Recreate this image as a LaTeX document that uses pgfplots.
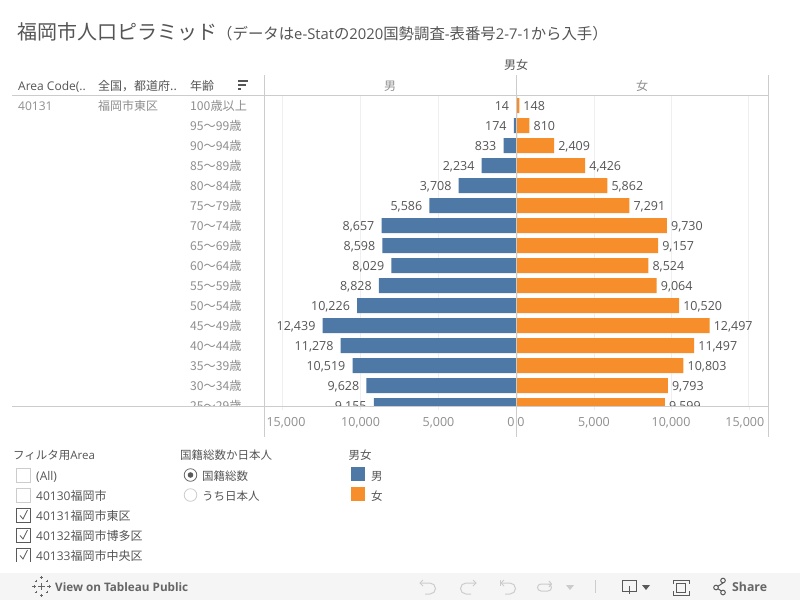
\documentclass[border=0pt]{standalone}
\usepackage{fontspec}
\usepackage{pgfplots}
\usepackage{pgfplotstable}
\pgfplotsset{compat=1.18}
\setmainfont{Open Sans}
\newfontfamily\cjk{Noto Sans CJK JP}
\newcommand\J[1]{{\cjk #1}}
\definecolor{mblue}{HTML}{4E79A7}
\definecolor{forange}{HTML}{F58E2B}
\definecolor{rulec}{HTML}{CCCCCC}
\definecolor{gridc}{HTML}{EFEFEF}
\definecolor{lab}{HTML}{555555}
\definecolor{lab2}{HTML}{8F8F8F}
\definecolor{band}{HTML}{F5F5F5}
\newcommand\fs[1]{\fontsize{#1}{#1}\selectfont}
\pgfplotstableread{
y male female
0 14 148
1 174 810
2 833 2409
3 2234 4426
4 3708 5862
5 5586 7291
6 8657 9730
7 8598 9157
8 8029 8524
9 8828 9064
10 10226 10520
11 12439 12497
12 11278 11497
13 10519 10803
14 9628 9793
15 9155 9599
}\pop
\pgfplotsset{pyr/.style={
  scale only axis, height=310.5pt,
  anchor=south west,
  xbar, bar width=15pt, bar shift=0pt,
  y dir=reverse, ymin=-0.5, ymax=15.025,
  axis line style={draw=none},
  xmajorgrids, grid style={gridc,line width=0.8pt},
  xtick pos=bottom, xticklabel pos=bottom,
  scaled x ticks=false,
  tick align=outside,
  major tick length=4pt,
  xtick style={gridc,line width=0.8pt},
  ytick style={draw=none},
  /pgf/number format/assume math mode=true,
  /pgf/number format/1000 sep={,},
  ticklabel style={font=\fs{12.5},text=lab2},
  xticklabel style={yshift=-4pt},
  nodes near coords,
  nodes near coords style={font=\fs{12.5},text=lab,inner sep=0pt},
}}
\begin{document}
\begin{tikzpicture}[x=1pt,y=-1pt]
\useasboundingbox (0,0) rectangle (800,600);
\fill[white] (0,0) rectangle (800,600);
% left half
\begin{axis}[pyr,
  at={(264.5pt,-406pt)}, width=252pt,
  x dir=reverse, xmin=0, xmax=16167,
  xtick={15000,10000,5000,0},
  xticklabels={\hspace{6.6pt}15{,}000,10{,}000,5{,}000,0\kern 11pt},
  ytick={0,...,15},
  yticklabels={\J{100歳以上},\J{95〜99歳},\J{90〜94歳},\J{85〜89歳},\J{80〜84歳},\J{75〜79歳},\J{70〜74歳},\J{65〜69歳},\J{60〜64歳},\J{55〜59歳},\J{50〜54歳},\J{45〜49歳},\J{40〜44歳},\J{35〜39歳},\J{30〜34歳},\J{25〜29歳}},
  yticklabel style={anchor=west,xshift=-70.5pt,inner sep=0pt,font=\fs{12.2},text=lab2},
  every node near coord/.append style={anchor=east,xshift=-7pt,yshift=-1pt},
]
\addplot[fill=mblue,draw=none] table[x=male,y=y] {\pop};
\end{axis}
% right half
\begin{axis}[pyr,
  at={(517pt,-406pt)}, width=251.3pt,
  xmin=0, xmax=16310,
  xtick={0,5000,10000,15000},
  xticklabels={\hspace{8pt}0,5{,}000,10{,}000,15{,}000\kern 6.6pt},
  ytick=\empty,
  every node near coord/.append style={anchor=west,xshift=4pt,yshift=-1pt},
]
\addplot[fill=forange,draw=none] table[x=female,y=y] {\pop};
\end{axis}
% cover below the clipped last row
\fill[white] (0,406.5) rectangle (800,414);
\foreach \x in {282.7,360.4,438.3,594.7,671.5,749.3}{\draw[gridc,line width=0.8pt] (\x,406)--(\x,410);}
% rules
\draw[rulec,line width=0.8pt] (12,95.5)--(768.5,95.5);
\draw[rulec,line width=0.8pt] (12,406.3)--(768.5,406.3);
\draw[rulec,line width=0.8pt] (264.5,75)--(264.5,436.5);
\draw[rulec,line width=0.8pt] (516.5,75)--(516.5,436.5);
\draw[rulec,line width=0.8pt] (768.5,75)--(768.5,436.5);
% title
\node[anchor=base west,inner sep=0,text=lab] at (17,39) {\fs{20}\J{福岡市人口ピラミッド}};
\node[anchor=base west,inner sep=0,text=lab] at (217,39) {\fs{15.4}\J{（データは}\fs{14.8}e-Stat\fs{15.4}\J{の}\fs{14.8}2020\fs{15.4}\J{国勢調査}\fs{14.8}-\fs{15.4}\J{表番号}\fs{14.8}2-7-1\fs{15.4}\J{から入手）}};
% headers
\node[anchor=base,inner sep=0,text=lab] at (516,69) {\fs{12}\J{男女}};
\node[anchor=base west,inner sep=0,text=lab] at (18,90) {\fs{12}Area Code(..};
\node[anchor=base west,inner sep=0,text=lab] at (98,90) {\fs{12}\J{全国，都道府..}};
\node[anchor=base west,inner sep=0,text=lab] at (190,90) {\fs{12}\J{年齢}};
\fill[lab] (238,80) rectangle (248,81.5);
\fill[lab] (238,84) rectangle (245.5,85.5);
\fill[lab] (238,88) rectangle (241,89.5);
\node[anchor=base,inner sep=0,text=lab2] at (390,90) {\fs{12}\J{男}};
\node[anchor=base,inner sep=0,text=lab2] at (642,90) {\fs{12}\J{女}};
\node[anchor=base west,inner sep=0,text=lab2] at (18,110) {\fs{12}40131};
\node[anchor=base west,inner sep=0,text=lab2] at (98,110) {\fs{12}\J{福岡市東区}};
% filter 1
\node[anchor=base west,inner sep=0,text=lab] at (13,459) {\fs{11.5}\J{フィルタ用}Area};
\begin{scope}
\clip (0,440) rectangle (175,561);
\foreach \yy/\tt/\ck in {475/(All)/0,495/40130\J{福岡市}/0,515/40131\J{福岡市東区}/1,535/40132\J{福岡市博多区}/1,555/40133\J{福岡市中央区}/1}{
  \ifnum\ck=1
    \draw[black!65,line width=0.8pt] (16.5,\yy-7) rectangle (30.5,\yy+7);
    \draw[black!65,line width=0.8pt] (20,\yy+0.5)--(23,\yy+4)--(27.5,\yy-5);
  \else
    \draw[rulec,line width=0.8pt] (16.5,\yy-7) rectangle (30.5,\yy+7);
  \fi
  \node[anchor=base west,inner sep=0,text=lab] at (36,\yy+5) {\fs{12}\tt};
}
\end{scope}
% filter 2
\node[anchor=base west,inner sep=0,text=lab] at (180,459) {\fs{11.5}\J{国籍総数か日本人}};
\draw[black!60,line width=0.8pt] (190.5,475) circle (6.3);
\fill[black!65] (190.5,475) circle (2.8);
\draw[rulec,line width=0.8pt] (190.5,495) circle (6.3);
\node[anchor=base west,inner sep=0,text=lab] at (202,480) {\fs{11.5}\J{国籍総数}};
\node[anchor=base west,inner sep=0,text=lab] at (202,500) {\fs{11.5}\J{うち日本人}};
% legend
\node[anchor=base west,inner sep=0,text=lab] at (348.5,459) {\fs{11.5}\J{男女}};
\fill[mblue] (351,467) rectangle (365,481);
\fill[forange] (351,487) rectangle (365,501);
\node[anchor=base west,inner sep=0,text=lab] at (371,480) {\fs{11.5}\J{男}};
\node[anchor=base west,inner sep=0,text=lab] at (371,500) {\fs{11.5}\J{女}};
% footer
\fill[band] (0,572.7) rectangle (800,600);
\node[anchor=base west,inner sep=0,text=black!60] at (55,591) {\fs{11.7}\textbf{View on Tableau Public}};
\foreach \cx/\cy/\r in {41.5/586.5/3.5,41.5/577.5/1.6,41.5/595.5/1.6,34/586.5/1.6,49/586.5/1.6,36/581/1.3,47/581/1.3,36/592/1.3,47/592/1.3}{
  \draw[black!60,line width=0.8pt] (\cx-\r,\cy)--(\cx+\r,\cy) (\cx,\cy-\r)--(\cx,\cy+\r);}
\draw[rulec,line width=1pt] (420,583)--(430,583) arc (-90:90:5.5)--(425,594);
\draw[rulec,line width=1pt] (423,580)--(420,583)--(423,586);
\draw[rulec,line width=1pt] (476,583)--(466,583) arc (-90:-270:5.5)--(471,594);
\draw[rulec,line width=1pt] (473,580)--(476,583)--(473,586);
\draw[rulec,line width=1pt] (501,583)--(510,583) arc (-90:90:5.5)--(505,594);
\draw[rulec,line width=1pt] (504,580)--(501,583)--(504,586);
\draw[rulec,line width=1pt] (500,580)--(500,586);
\draw[rulec,line width=1pt] (551,584)--(541,584) arc (-90:-270:3.5)--(548,591) arc (90:-90:3.5);
\draw[rulec,line width=1pt] (549,581)--(551.5,584)--(549,587);
\fill[rulec] (566,585)--(574,585)--(570,590)--cycle;
\draw[rulec,line width=1pt] (595.5,580)--(595.5,593);
\draw[black!65,line width=1pt] (622.5,580) rectangle (636.5,591);
\draw[black!65,line width=1pt] (629.5,586)--(629.5,594);
\fill[black!65] (642,585)--(650,585)--(646,590)--cycle;
\draw[black!65,line width=1pt] (673,584)--(673,580)--(689,580)--(689,584) (673,591)--(673,595)--(689,595)--(689,591);
\draw[black!65,line width=1pt] (676.5,583) rectangle (685.5,592);
\draw[black!65,line width=1pt] (723,583)--(716,587.5)--(723,592);
\fill[band,draw=black!65,line width=1pt] (723,580.5) circle (2.3) (716,587.5) circle (2.3) (723,592.5) circle (2.3);
\node[anchor=base west,inner sep=0,text=black!60] at (732,591) {\fs{12.3}\textbf{Share}};
\end{tikzpicture}
\end{document}
